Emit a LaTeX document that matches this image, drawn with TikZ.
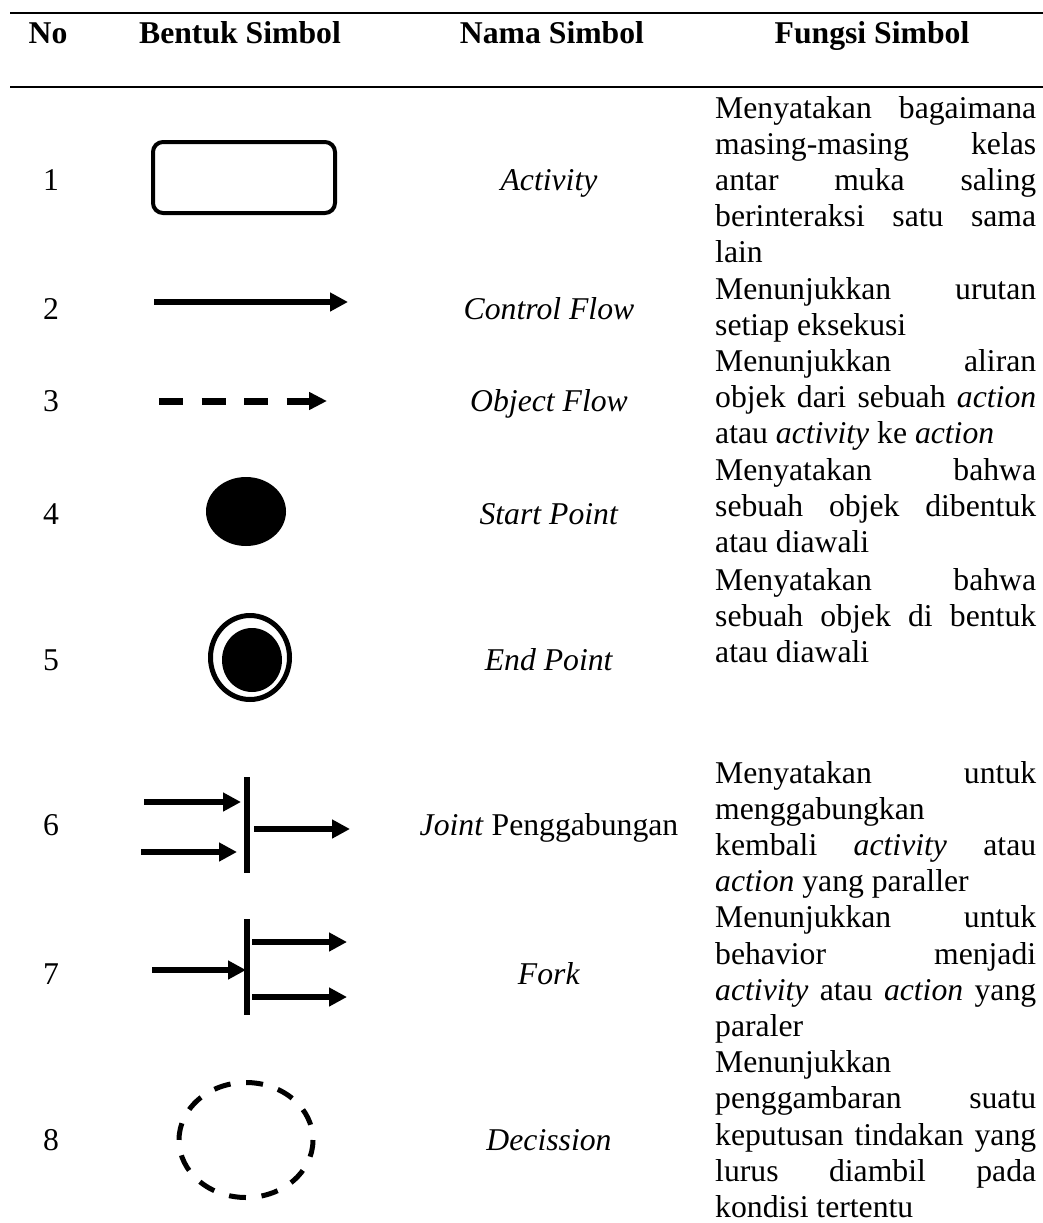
\documentclass[tikz,border=0pt]{standalone}
\usepackage{fontspec}
\setmainfont{Liberation Serif}
\usepackage{tikz}
\usetikzlibrary{arrows.meta}

% one justified line of the description column
\newcommand{\jline}[1]{\makebox[\linewidth][s]{#1}}

\begin{document}
\begin{tikzpicture}[x=1pt, y=-1pt,
  txt/.style={inner sep=0pt, font=\fontsize{31.7}{36.2}\selectfont},
  head/.style={txt, anchor=base, font=\fontsize{31.7}{36.2}\selectfont\bfseries},
  num/.style={txt, anchor=base},
  nama/.style={txt, anchor=base},
  fungsi/.style={txt, anchor=base west},
  rule/.style={line width=2.5pt},
  flow/.style={line width=6pt, -{Triangle[length=18pt, width=18pt]}},
  bar/.style={line width=6pt},
]
  \useasboundingbox (0,0) rectangle (1043,1223);

  % header
  \draw[rule] (10,13) -- (1043,13);
  \draw[rule] (10,87) -- (1043,87);
  \node[head] (hno) at (48,44) {No};
  \node[head] (hbentuk) at (240,44) {Bentuk Simbol};
  \node[head] (hnama) at (552,44) {Nama Simbol};
  \node[head] (hfungsi) at (872,44) {Fungsi Simbol};

  % numbers
  \node[num] (n1) at (51,190) {1};
  \node[num] (n2) at (51,319) {2};
  \node[num] (n3) at (51,411) {3};
  \node[num] (n4) at (51,524) {4};
  \node[num] (n5) at (51,670) {5};
  \node[num] (n6) at (51,835) {6};
  \node[num] (n7) at (51,984) {7};
  \node[num] (n8) at (51,1150) {8};

  % symbol names
  \node[nama] (activity) at (549,190) {\textit{Activity}};
  \node[nama] (control) at (549,319) {\textit{Control Flow}};
  \node[nama] (object) at (549,411) {\textit{Object Flow}};
  \node[nama] (start) at (549,524) {\textit{Start Point}};
  \node[nama] (end) at (549,670) {\textit{End Point}};
  \node[nama] (joint) at (549,835) {\textit{Joint} Penggabungan};
  \node[nama] (fork) at (549,984) {\textit{Fork}};
  \node[nama] (decision) at (549,1150) {\textit{Decission}};

  % descriptions
  \node[fungsi] (f1) at (715,118) {\parbox[t]{321pt}{%
    \jline{Menyatakan bagaimana}\\ \jline{masing-masing kelas}\\
    \jline{antar muka saling}\\ \jline{berinteraksi satu sama}\\ lain}};
  \node[fungsi] (f2) at (715,299) {\parbox[t]{321pt}{%
    \jline{Menunjukkan urutan}\\ setiap eksekusi}};
  \node[fungsi] (f3) at (715,371.4) {\parbox[t]{321pt}{%
    \jline{Menunjukkan aliran}\\ \jline{objek dari sebuah \textit{action}}\\
    atau \textit{activity} ke \textit{action}}};
  \node[fungsi] (f4) at (715,480) {\parbox[t]{321pt}{%
    \jline{Menyatakan bahwa}\\ \jline{sebuah objek dibentuk}\\ atau diawali}};
  \node[fungsi] (f5) at (715,590) {\parbox[t]{321pt}{%
    \jline{Menyatakan bahwa}\\ \jline{sebuah objek di bentuk}\\ atau diawali}};
  \node[fungsi] (f6) at (715,783) {\parbox[t]{321pt}{%
    \jline{Menyatakan untuk}\\ menggabungkan\\
    \jline{kembali \textit{activity} atau}\\ \textit{action} yang paraller}};
  \node[fungsi] (f7) at (715,927.8) {\parbox[t]{321pt}{%
    \jline{Menunjukkan untuk}\\ \jline{behavior menjadi}\\
    \jline{\textit{activity} atau \textit{action} yang}\\ paraler}};
  \node[fungsi] (f8) at (715,1072.6) {\parbox[t]{321pt}{%
    Menunjukkan\\ \jline{penggambaran suatu}\\ \jline{keputusan tindakan yang}\\
    \jline{lurus diambil pada}\\ kondisi tertentu}};

  % symbols
  \draw[line width=4pt, rounded corners=10pt] (153,142) rectangle (335,213);
  \draw[flow] (154,302) -- (348,302);
  \draw[line width=7pt, dash pattern=on 24pt off 18.5pt,
    -{Triangle[length=18pt, width=17pt, sep=19pt]}] (159,401) -- (346,401);
  \fill (246,511.5) ellipse [x radius=40, y radius=34.5];
  \draw[line width=5pt] (250,657.5) ellipse [x radius=39.5, y radius=42];
  \fill (252,660) ellipse [x radius=30, y radius=32];

  \draw[bar] (247,777) -- (247,873);
  \draw[flow] (144,802) -- (241,802);
  \draw[flow] (141,852) -- (237,852);
  \draw[flow] (254,829) -- (350,829);

  \draw[bar] (247,919) -- (247,1015);
  \draw[flow] (152,970) -- (246,970);
  \draw[flow] (252,942) -- (347,942);
  \draw[flow] (252,997) -- (347,997);

  \draw[line width=5pt, dash pattern=on 17pt off 15.65pt]
    (246,1140) ellipse [x radius=67, y radius=57.5];
\end{tikzpicture}
\end{document}
